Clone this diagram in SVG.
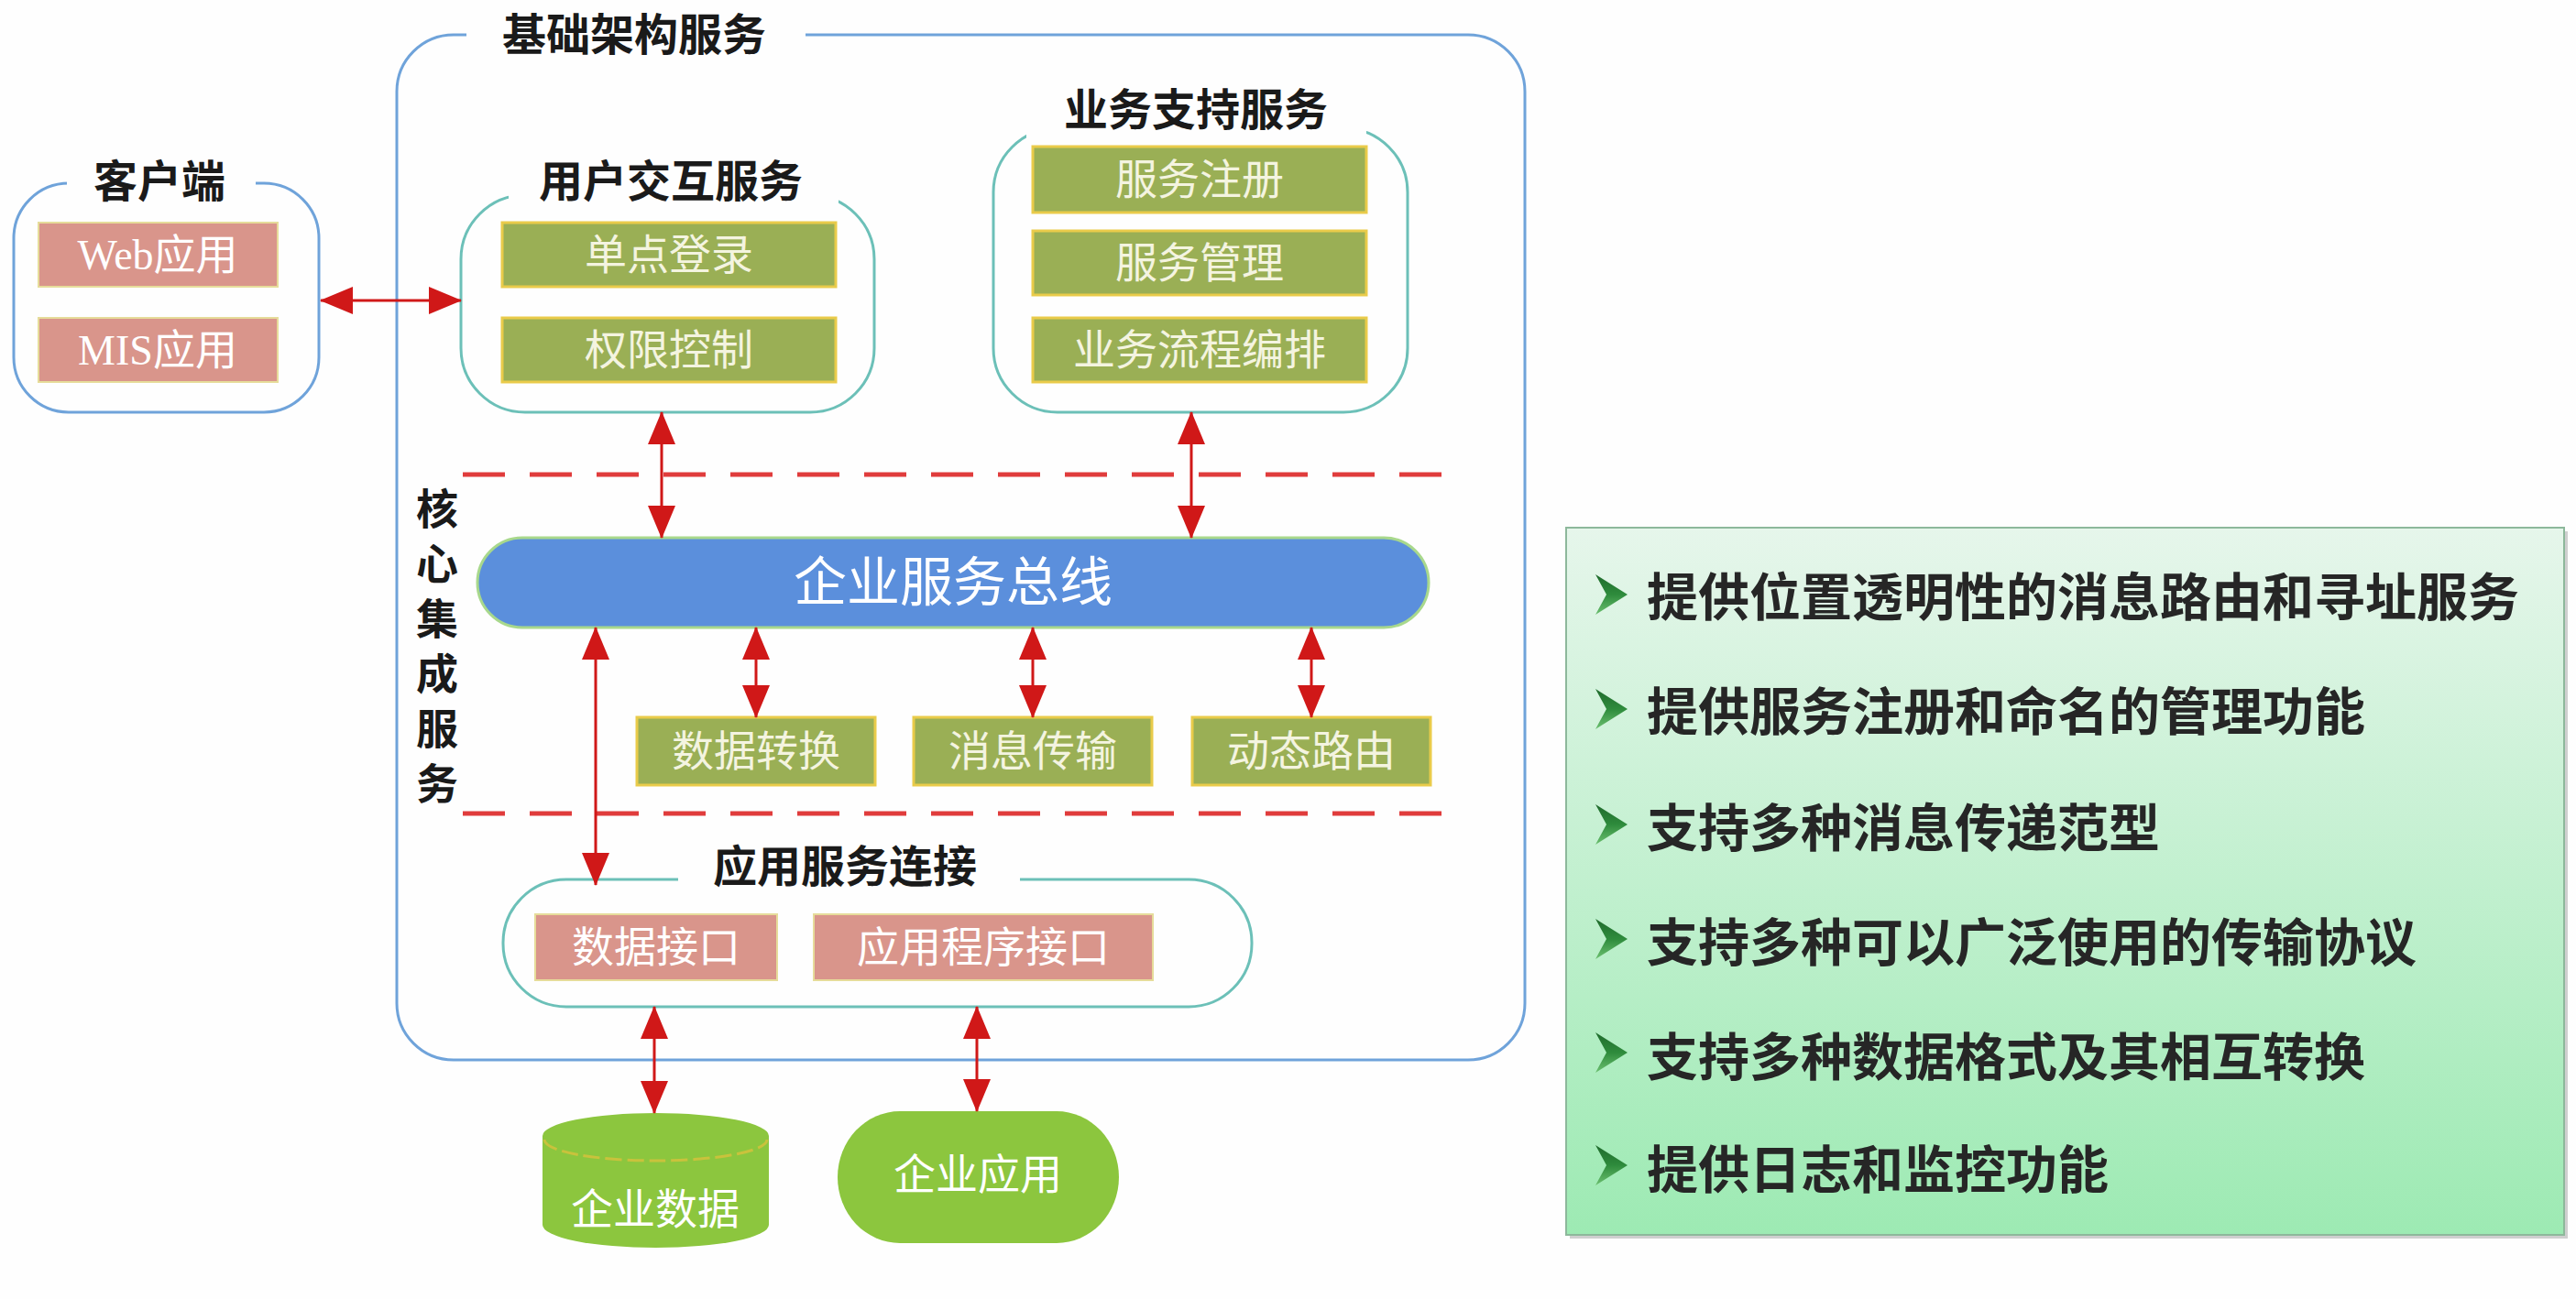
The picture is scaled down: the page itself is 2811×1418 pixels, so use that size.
<svg xmlns="http://www.w3.org/2000/svg" width="2811" height="1418" viewBox="0 0 2811 1418">
<defs>
<style>
.bg{fill:#FEFEFE}
.mask{fill:#FEFEFE}
.grp{fill:none;stroke-width:3}
.blue{stroke:#6FA3DA}
.teal{stroke:#6CC0B8}
.title{font-family:"Liberation Serif","Noto Sans CJK SC",serif;font-weight:bold;font-size:48px;fill:#1A1A1A;text-anchor:middle;dominant-baseline:central}
.olive{fill:#9AAF55;stroke:#E9CB4A;stroke-width:3}
.salmon{fill:#D9958B;stroke:#E6DC9A;stroke-width:2}
.lbl{font-family:"Liberation Serif","Noto Sans CJK SC",serif;font-size:46px;fill:#F4F4E0;text-anchor:middle;dominant-baseline:central}
.wlbl{font-family:"Liberation Serif","Noto Sans CJK SC",serif;font-size:46px;fill:#FFFFFF;text-anchor:middle;dominant-baseline:central}
.dash{stroke:#E03C3C;stroke-width:5;stroke-dasharray:46 27;fill:none}
.arr{stroke:#D01818;stroke-width:3;fill:none;marker-start:url(#ah);marker-end:url(#ah)}
.lime{fill:#8CC63E}
.pt{font-family:"Noto Sans CJK SC","Noto Sans",sans-serif;font-weight:bold;font-size:56px;fill:#262626;dominant-baseline:central}
</style>
<marker id="ah" viewBox="0 0 36 30" refX="35" refY="15" markerWidth="36" markerHeight="30" markerUnits="userSpaceOnUse" orient="auto-start-reverse">
<path d="M0,0 L36,15 L0,30 z" fill="#D01818"/>
</marker>
<linearGradient id="pg" x1="0" y1="0" x2="0" y2="1">
<stop offset="0" stop-color="#E6F6EB"/>
<stop offset="1" stop-color="#9DEAB3"/>
</linearGradient>
<linearGradient id="bul" x1="0" y1="0" x2="0" y2="1">
<stop offset="0" stop-color="#1F6A2C"/>
<stop offset="0.5" stop-color="#2E8B3C"/>
<stop offset="1" stop-color="#6CC070"/>
</linearGradient>
</defs>
<rect class="bg" x="0" y="0" width="2811" height="1418"/>

<g id="outer">
<rect class="grp blue" x="433" y="38" width="1231" height="1119" rx="62" ry="62"/>
<rect class="mask" x="509" y="22" width="370" height="32"/>
<text class="title" x="692" y="38">基础架构服务</text>
</g>

<g id="client">
<rect class="grp blue" x="15" y="200" width="333" height="250" rx="60" ry="60"/>
<rect class="mask" x="73" y="186" width="206" height="28"/>
<text class="title" x="174" y="198">客户端</text>
</g>
<g id="web"><rect class="salmon" x="42" y="243" width="261" height="70"/><text class="wlbl" x="172" y="278">Web应用</text></g>
<g id="mis"><rect class="salmon" x="42" y="347" width="261" height="70"/><text class="wlbl" x="172" y="382">MIS应用</text></g>

<g id="user">
<rect class="grp teal" x="503" y="213" width="451" height="237" rx="70" ry="70"/>
<rect class="mask" x="555" y="196" width="360" height="32"/>
<text class="title" x="732" y="198">用户交互服务</text>
</g>
<g id="sso"><rect class="olive" x="548" y="243" width="364" height="70"/><text class="lbl" x="730" y="278">单点登录</text></g>
<g id="auth"><rect class="olive" x="548" y="347" width="364" height="70"/><text class="lbl" x="730" y="382">权限控制</text></g>

<g id="biz">
<rect class="grp teal" x="1084" y="140" width="452" height="310" rx="70" ry="70"/>
<rect class="mask" x="1120" y="124" width="371" height="30"/>
<text class="title" x="1305" y="120">业务支持服务</text>
</g>
<g id="reg"><rect class="olive" x="1127" y="160" width="364" height="72"/><text class="lbl" x="1309" y="196">服务注册</text></g>
<g id="mgmt"><rect class="olive" x="1127" y="252" width="364" height="70"/><text class="lbl" x="1309" y="287">服务管理</text></g>
<g id="flow"><rect class="olive" x="1127" y="347" width="364" height="70"/><text class="lbl" x="1309" y="382">业务流程编排</text></g>

<g id="dividers">
<line class="dash" x1="505" y1="518" x2="1580" y2="518"/>
<line class="dash" x1="505" y1="888" x2="1580" y2="888"/>
</g>

<g id="core">
<text class="title" style="font-size:46px">
<tspan x="477" y="556">核</tspan><tspan x="477" y="616">心</tspan><tspan x="477" y="676">集</tspan><tspan x="477" y="736">成</tspan><tspan x="477" y="796">服</tspan><tspan x="477" y="856">务</tspan>
</text>
</g>

<g id="esb">
<rect x="521" y="587" width="1038" height="98" rx="49" ry="49" fill="#5B8FDC" stroke="#A8D88C" stroke-width="3"/>
<text class="wlbl" x="1040" y="636" style="font-size:58px">企业服务总线</text>
</g>

<g id="transform"><rect class="olive" x="695" y="783" width="260" height="74"/><text class="lbl" x="825" y="820">数据转换</text></g>
<g id="msg"><rect class="olive" x="997" y="783" width="260" height="74"/><text class="lbl" x="1127" y="820">消息传输</text></g>
<g id="route"><rect class="olive" x="1301" y="783" width="260" height="74"/><text class="lbl" x="1431" y="820">动态路由</text></g>

<g id="appconn">
<rect class="grp teal" x="549" y="960" width="817" height="139" rx="69" ry="69"/>
<rect class="mask" x="740" y="946" width="373" height="28"/>
<text class="title" x="922" y="946">应用服务连接</text>
</g>
<g id="dataif"><rect class="salmon" x="584" y="998" width="264" height="72"/><text class="wlbl" x="716" y="1034">数据接口</text></g>
<g id="apiif"><rect class="salmon" x="888" y="998" width="370" height="72"/><text class="wlbl" x="1073" y="1034">应用程序接口</text></g>

<g id="edata">
<path class="lime" d="M592,1240 A123.5,25 0 0 1 839,1240 L839,1337 A123.5,25 0 0 1 592,1337 Z"/>
<path d="M594,1244 A121.5,23 0 0 0 837,1244" fill="none" stroke="#C9C23C" stroke-width="3" stroke-dasharray="18 6"/>
<text class="wlbl" x="715" y="1320">企业数据</text>
</g>
<g id="eapp">
<rect class="lime" x="914" y="1213" width="307" height="144" rx="68" ry="72"/>
<text class="wlbl" x="1067" y="1282">企业应用</text>
</g>

<g id="connectors">
<line class="arr" x1="350" y1="328" x2="503" y2="328"/>
<line class="arr" x1="722" y1="450" x2="722" y2="587"/>
<line class="arr" x1="1300" y1="450" x2="1300" y2="587"/>
<line class="arr" x1="825" y1="685" x2="825" y2="783"/>
<line class="arr" x1="1127" y1="685" x2="1127" y2="783"/>
<line class="arr" x1="1431" y1="685" x2="1431" y2="783"/>
<line class="arr" x1="650" y1="685" x2="650" y2="966"/>
<line class="arr" x1="714" y1="1099" x2="714" y2="1215"/>
<line class="arr" x1="1066" y1="1099" x2="1066" y2="1213"/>
</g>

<g id="features">
<rect x="1713" y="580" width="1089" height="772" fill="#CFCFCF"/>
<rect x="1709" y="576" width="1089" height="772" fill="url(#pg)" stroke="#8DB89B" stroke-width="2"/>
<g fill="url(#bul)">
<polygon points="1741,627 1776,649 1741,671 1753,649"/>
<polygon points="1741,752 1776,774 1741,796 1753,774"/>
<polygon points="1741,878 1776,900 1741,922 1753,900"/>
<polygon points="1741,1003 1776,1025 1741,1047 1753,1025"/>
<polygon points="1741,1127 1776,1149 1741,1171 1753,1149"/>
<polygon points="1741,1250 1776,1272 1741,1294 1753,1272"/>
</g>
<text class="pt" x="1797" y="647">提供位置透明性的消息路由和寻址服务</text>
<text class="pt" x="1797" y="772">提供服务注册和命名的管理功能</text>
<text class="pt" x="1797" y="899">支持多种消息传递范型</text>
<text class="pt" x="1797" y="1024">支持多种可以广泛使用的传输协议</text>
<text class="pt" x="1797" y="1149">支持多种数据格式及其相互转换</text>
<text class="pt" x="1797" y="1272">提供日志和监控功能</text>
</g>
</svg>
